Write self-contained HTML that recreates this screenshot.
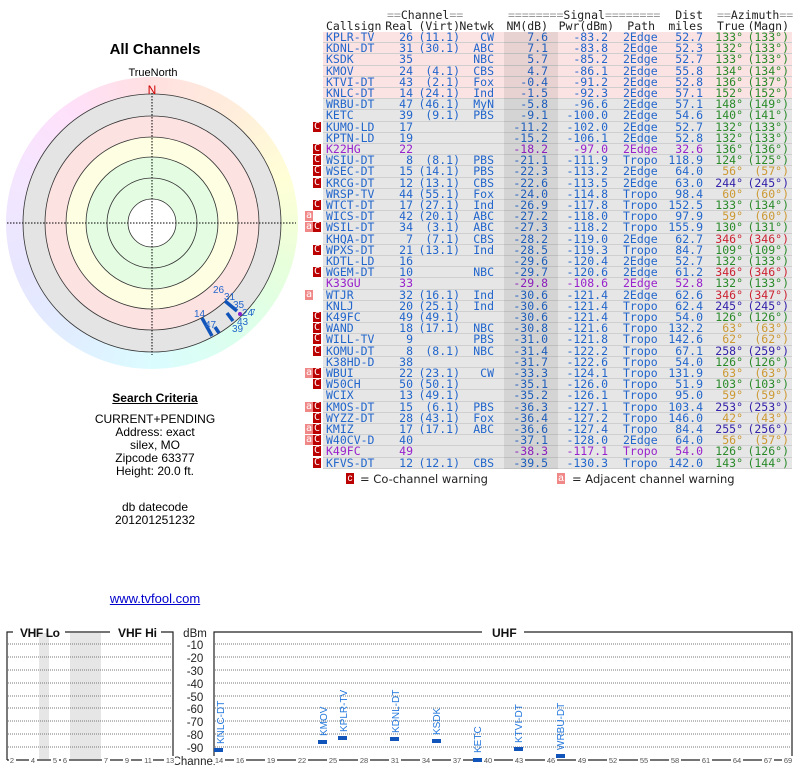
<!DOCTYPE html>
<html><head><meta charset="utf-8"><style>
body{margin:0;width:800px;height:768px;background:#fff;position:relative;overflow:hidden;font-family:"Liberation Sans",sans-serif}
.m{font-family:"DejaVu Sans Mono","Liberation Mono",monospace;font-size:11.5px}
.r{position:absolute;left:0;width:800px;height:11.2px;line-height:11.6px;color:#2266cc}
.r:before{content:"";position:absolute;left:323px;width:469px;top:0;height:10.2px;background:#e6e6e6;border-bottom:1px solid #cfcfcf}
.r.p:before{background:#fbe3e3}
.r.v{color:#9922cc}
.r span{position:absolute;top:0;white-space:pre}
.cs{left:326px}.re{right:387px}.vi{right:340px}.nw{right:306px}.nm{right:252px}.pw{right:192px}.pa{left:623px}.di{right:97px}.tr{right:57px}.mg{right:11px}
.g{color:#2a8a2a}.o{color:#cc9933}.b{color:#3322aa}.d{color:#cc2233}
.C,.A{position:absolute;width:8px;height:10px;color:#fff;font-size:10px;line-height:10px;text-align:center;top:0.5px}
.C{left:313px;background:#bb0000}.A{left:305px;background:#f08888}
.h{position:absolute;white-space:pre;color:#222;line-height:11px}
.q{color:#999}
.t{position:absolute;left:0;width:310px;text-align:center;font-size:12px;color:#000}
</style></head><body>
<div style="position:absolute;left:504px;top:32px;width:54px;height:437px;background:rgba(0,0,0,0.08);z-index:2"></div>
<div class="m">
<div class="h" style="left:387px;top:10px"><span class="q">==</span>Channel<span class="q">==</span></div>
<div class="h" style="left:508px;top:10px"><span class="q">========</span>Signal<span class="q">========</span></div>
<div class="h" style="right:97px;top:10px">Dist</div>
<div class="h" style="left:717px;top:10px"><span class="q">==</span>Azimuth<span class="q">==</span></div>
<div class="h" style="left:326px;top:21px">Callsign</div>
<div class="h" style="right:387px;top:21px">Real</div>
<div class="h" style="right:340px;top:21px">(Virt)</div>
<div class="h" style="right:306px;top:21px">Netwk</div>
<div class="h" style="right:252px;top:21px">NM(dB)</div>
<div class="h" style="right:186px;top:21px">Pwr(dBm)</div>
<div class="h" style="right:145px;top:21px">Path</div>
<div class="h" style="right:97px;top:21px">miles</div>
<div class="h" style="left:717px;top:21px">True</div>
<div class="h" style="right:11px;top:21px">(Magn)</div>

<div class="r p" style="top:32px"><span class="cs">KPLR-TV</span><span class="re">26</span><span class="vi">(11.1)</span><span class="nw">CW</span><span class="nm">7.6</span><span class="pw">-83.2</span><span class="pa">2Edge</span><span class="di">52.7</span><span class="tr g">133°</span><span class="mg g">(133°)</span></div>
<div class="r p" style="top:43.2px"><span class="cs">KDNL-DT</span><span class="re">31</span><span class="vi">(30.1)</span><span class="nw">ABC</span><span class="nm">7.1</span><span class="pw">-83.8</span><span class="pa">2Edge</span><span class="di">52.3</span><span class="tr g">132°</span><span class="mg g">(133°)</span></div>
<div class="r p" style="top:54.4px"><span class="cs">KSDK</span><span class="re">35</span><span class="nw">NBC</span><span class="nm">5.7</span><span class="pw">-85.2</span><span class="pa">2Edge</span><span class="di">52.7</span><span class="tr g">133°</span><span class="mg g">(133°)</span></div>
<div class="r p" style="top:65.6px"><span class="cs">KMOV</span><span class="re">24</span><span class="vi">(4.1)</span><span class="nw">CBS</span><span class="nm">4.7</span><span class="pw">-86.1</span><span class="pa">2Edge</span><span class="di">55.8</span><span class="tr g">134°</span><span class="mg g">(134°)</span></div>
<div class="r p" style="top:76.8px"><span class="cs">KTVI-DT</span><span class="re">43</span><span class="vi">(2.1)</span><span class="nw">Fox</span><span class="nm">-0.4</span><span class="pw">-91.2</span><span class="pa">2Edge</span><span class="di">52.8</span><span class="tr g">136°</span><span class="mg g">(137°)</span></div>
<div class="r p" style="top:88px"><span class="cs">KNLC-DT</span><span class="re">14</span><span class="vi">(24.1)</span><span class="nw">Ind</span><span class="nm">-1.5</span><span class="pw">-92.3</span><span class="pa">2Edge</span><span class="di">57.1</span><span class="tr g">152°</span><span class="mg g">(152°)</span></div>
<div class="r" style="top:99.2px"><span class="cs">WRBU-DT</span><span class="re">47</span><span class="vi">(46.1)</span><span class="nw">MyN</span><span class="nm">-5.8</span><span class="pw">-96.6</span><span class="pa">2Edge</span><span class="di">57.1</span><span class="tr g">148°</span><span class="mg g">(149°)</span></div>
<div class="r" style="top:110.4px"><span class="cs">KETC</span><span class="re">39</span><span class="vi">(9.1)</span><span class="nw">PBS</span><span class="nm">-9.1</span><span class="pw">-100.0</span><span class="pa">2Edge</span><span class="di">54.6</span><span class="tr g">140°</span><span class="mg g">(141°)</span></div>
<div class="r" style="top:121.6px"><span class="C">C</span><span class="cs">KUMO-LD</span><span class="re">17</span><span class="nm">-11.2</span><span class="pw">-102.0</span><span class="pa">2Edge</span><span class="di">52.7</span><span class="tr g">132°</span><span class="mg g">(133°)</span></div>
<div class="r" style="top:132.8px"><span class="cs">KPTN-LD</span><span class="re">19</span><span class="nm">-15.2</span><span class="pw">-106.1</span><span class="pa">2Edge</span><span class="di">52.8</span><span class="tr g">132°</span><span class="mg g">(133°)</span></div>
<div class="r v" style="top:144px"><span class="C">C</span><span class="cs">K22HG</span><span class="re">22</span><span class="nm">-18.2</span><span class="pw">-97.0</span><span class="pa">2Edge</span><span class="di">32.6</span><span class="tr g">136°</span><span class="mg g">(136°)</span></div>
<div class="r" style="top:155.2px"><span class="C">C</span><span class="cs">WSIU-DT</span><span class="re">8</span><span class="vi">(8.1)</span><span class="nw">PBS</span><span class="nm">-21.1</span><span class="pw">-111.9</span><span class="pa">Tropo</span><span class="di">118.9</span><span class="tr g">124°</span><span class="mg g">(125°)</span></div>
<div class="r" style="top:166.4px"><span class="C">C</span><span class="cs">WSEC-DT</span><span class="re">15</span><span class="vi">(14.1)</span><span class="nw">PBS</span><span class="nm">-22.3</span><span class="pw">-113.2</span><span class="pa">2Edge</span><span class="di">64.0</span><span class="tr o">56°</span><span class="mg o">(57°)</span></div>
<div class="r" style="top:177.6px"><span class="C">C</span><span class="cs">KRCG-DT</span><span class="re">12</span><span class="vi">(13.1)</span><span class="nw">CBS</span><span class="nm">-22.6</span><span class="pw">-113.5</span><span class="pa">2Edge</span><span class="di">63.0</span><span class="tr b">244°</span><span class="mg b">(245°)</span></div>
<div class="r" style="top:188.8px"><span class="cs">WRSP-TV</span><span class="re">44</span><span class="vi">(55.1)</span><span class="nw">Fox</span><span class="nm">-24.0</span><span class="pw">-114.8</span><span class="pa">Tropo</span><span class="di">98.4</span><span class="tr o">60°</span><span class="mg o">(60°)</span></div>
<div class="r" style="top:200px"><span class="C">C</span><span class="cs">WTCT-DT</span><span class="re">17</span><span class="vi">(27.1)</span><span class="nw">Ind</span><span class="nm">-26.9</span><span class="pw">-117.8</span><span class="pa">Tropo</span><span class="di">152.5</span><span class="tr g">133°</span><span class="mg g">(134°)</span></div>
<div class="r" style="top:211.2px"><span class="A">a</span><span class="cs">WICS-DT</span><span class="re">42</span><span class="vi">(20.1)</span><span class="nw">ABC</span><span class="nm">-27.2</span><span class="pw">-118.0</span><span class="pa">Tropo</span><span class="di">97.9</span><span class="tr o">59°</span><span class="mg o">(60°)</span></div>
<div class="r" style="top:222.4px"><span class="A">a</span><span class="C">C</span><span class="cs">WSIL-DT</span><span class="re">34</span><span class="vi">(3.1)</span><span class="nw">ABC</span><span class="nm">-27.3</span><span class="pw">-118.2</span><span class="pa">Tropo</span><span class="di">155.9</span><span class="tr g">130°</span><span class="mg g">(131°)</span></div>
<div class="r" style="top:233.6px"><span class="cs">KHQA-DT</span><span class="re">7</span><span class="vi">(7.1)</span><span class="nw">CBS</span><span class="nm">-28.2</span><span class="pw">-119.0</span><span class="pa">2Edge</span><span class="di">62.7</span><span class="tr d">346°</span><span class="mg d">(346°)</span></div>
<div class="r" style="top:244.8px"><span class="C">C</span><span class="cs">WPXS-DT</span><span class="re">21</span><span class="vi">(13.1)</span><span class="nw">Ind</span><span class="nm">-28.5</span><span class="pw">-119.3</span><span class="pa">Tropo</span><span class="di">84.7</span><span class="tr g">109°</span><span class="mg g">(109°)</span></div>
<div class="r" style="top:256px"><span class="cs">KDTL-LD</span><span class="re">16</span><span class="nm">-29.6</span><span class="pw">-120.4</span><span class="pa">2Edge</span><span class="di">52.7</span><span class="tr g">132°</span><span class="mg g">(133°)</span></div>
<div class="r" style="top:267.2px"><span class="C">C</span><span class="cs">WGEM-DT</span><span class="re">10</span><span class="nw">NBC</span><span class="nm">-29.7</span><span class="pw">-120.6</span><span class="pa">2Edge</span><span class="di">61.2</span><span class="tr d">346°</span><span class="mg d">(346°)</span></div>
<div class="r v" style="top:278.4px"><span class="cs">K33GU</span><span class="re">33</span><span class="nm">-29.8</span><span class="pw">-108.6</span><span class="pa">2Edge</span><span class="di">52.8</span><span class="tr g">132°</span><span class="mg g">(133°)</span></div>
<div class="r" style="top:289.6px"><span class="A">a</span><span class="cs">WTJR</span><span class="re">32</span><span class="vi">(16.1)</span><span class="nw">Ind</span><span class="nm">-30.6</span><span class="pw">-121.4</span><span class="pa">2Edge</span><span class="di">62.6</span><span class="tr d">346°</span><span class="mg d">(347°)</span></div>
<div class="r" style="top:300.8px"><span class="cs">KNLJ</span><span class="re">20</span><span class="vi">(25.1)</span><span class="nw">Ind</span><span class="nm">-30.6</span><span class="pw">-121.4</span><span class="pa">Tropo</span><span class="di">62.4</span><span class="tr b">245°</span><span class="mg b">(245°)</span></div>
<div class="r" style="top:312px"><span class="C">C</span><span class="cs">K49FC</span><span class="re">49</span><span class="vi">(49.1)</span><span class="nm">-30.6</span><span class="pw">-121.4</span><span class="pa">Tropo</span><span class="di">54.0</span><span class="tr g">126°</span><span class="mg g">(126°)</span></div>
<div class="r" style="top:323.2px"><span class="C">C</span><span class="cs">WAND</span><span class="re">18</span><span class="vi">(17.1)</span><span class="nw">NBC</span><span class="nm">-30.8</span><span class="pw">-121.6</span><span class="pa">Tropo</span><span class="di">132.2</span><span class="tr o">63°</span><span class="mg o">(63°)</span></div>
<div class="r" style="top:334.4px"><span class="C">C</span><span class="cs">WILL-TV</span><span class="re">9</span><span class="nw">PBS</span><span class="nm">-31.0</span><span class="pw">-121.8</span><span class="pa">Tropo</span><span class="di">142.6</span><span class="tr o">62°</span><span class="mg o">(62°)</span></div>
<div class="r" style="top:345.6px"><span class="C">C</span><span class="cs">KOMU-DT</span><span class="re">8</span><span class="vi">(8.1)</span><span class="nw">NBC</span><span class="nm">-31.4</span><span class="pw">-122.2</span><span class="pa">Tropo</span><span class="di">67.1</span><span class="tr b">258°</span><span class="mg b">(259°)</span></div>
<div class="r" style="top:356.8px"><span class="cs">K38HD-D</span><span class="re">38</span><span class="nm">-31.7</span><span class="pw">-122.6</span><span class="pa">Tropo</span><span class="di">54.0</span><span class="tr g">126°</span><span class="mg g">(126°)</span></div>
<div class="r" style="top:368px"><span class="A">a</span><span class="C">C</span><span class="cs">WBUI</span><span class="re">22</span><span class="vi">(23.1)</span><span class="nw">CW</span><span class="nm">-33.3</span><span class="pw">-124.1</span><span class="pa">Tropo</span><span class="di">131.9</span><span class="tr o">63°</span><span class="mg o">(63°)</span></div>
<div class="r" style="top:379.2px"><span class="C">C</span><span class="cs">W50CH</span><span class="re">50</span><span class="vi">(50.1)</span><span class="nm">-35.1</span><span class="pw">-126.0</span><span class="pa">Tropo</span><span class="di">51.9</span><span class="tr g">103°</span><span class="mg g">(103°)</span></div>
<div class="r" style="top:390.4px"><span class="cs">WCIX</span><span class="re">13</span><span class="vi">(49.1)</span><span class="nm">-35.2</span><span class="pw">-126.1</span><span class="pa">Tropo</span><span class="di">95.0</span><span class="tr o">59°</span><span class="mg o">(59°)</span></div>
<div class="r" style="top:401.6px"><span class="A">a</span><span class="C">C</span><span class="cs">KMOS-DT</span><span class="re">15</span><span class="vi">(6.1)</span><span class="nw">PBS</span><span class="nm">-36.3</span><span class="pw">-127.1</span><span class="pa">Tropo</span><span class="di">103.4</span><span class="tr b">253°</span><span class="mg b">(253°)</span></div>
<div class="r" style="top:412.8px"><span class="C">C</span><span class="cs">WYZZ-DT</span><span class="re">28</span><span class="vi">(43.1)</span><span class="nw">Fox</span><span class="nm">-36.4</span><span class="pw">-127.2</span><span class="pa">Tropo</span><span class="di">146.0</span><span class="tr o">42°</span><span class="mg o">(43°)</span></div>
<div class="r" style="top:424px"><span class="A">a</span><span class="C">C</span><span class="cs">KMIZ</span><span class="re">17</span><span class="vi">(17.1)</span><span class="nw">ABC</span><span class="nm">-36.6</span><span class="pw">-127.4</span><span class="pa">Tropo</span><span class="di">84.4</span><span class="tr b">255°</span><span class="mg b">(256°)</span></div>
<div class="r" style="top:435.2px"><span class="A">a</span><span class="C">C</span><span class="cs">W40CV-D</span><span class="re">40</span><span class="nm">-37.1</span><span class="pw">-128.0</span><span class="pa">2Edge</span><span class="di">64.0</span><span class="tr o">56°</span><span class="mg o">(57°)</span></div>
<div class="r v" style="top:446.4px"><span class="C">C</span><span class="cs">K49FC</span><span class="re">49</span><span class="nm">-38.3</span><span class="pw">-117.1</span><span class="pa">Tropo</span><span class="di">54.0</span><span class="tr g">126°</span><span class="mg g">(126°)</span></div>
<div class="r" style="top:457.6px"><span class="C">C</span><span class="cs">KFVS-DT</span><span class="re">12</span><span class="vi">(12.1)</span><span class="nw">CBS</span><span class="nm">-39.5</span><span class="pw">-130.3</span><span class="pa">Tropo</span><span class="di">142.0</span><span class="tr g">143°</span><span class="mg g">(144°)</span></div>
</div>
<div style="position:absolute;left:346px;top:473px;width:8px;height:11px;background:#bb0000;color:#fff;font-size:10px;line-height:11px;text-align:center">c</div>
<div style="position:absolute;left:360px;top:472px;font-family:'DejaVu Sans',sans-serif;font-size:11.5px;color:#222">= Co-channel warning</div>
<div style="position:absolute;left:557px;top:473px;width:8px;height:11px;background:#f08888;color:#fff;font-size:10px;line-height:11px;text-align:center">a</div>
<div style="position:absolute;left:572px;top:472px;font-family:'DejaVu Sans',sans-serif;font-size:11.5px;color:#222">= Adjacent channel warning</div>

<div class="t" style="top:41px;font-size:15px;font-weight:bold">All Channels</div>
<div class="t" style="top:67px;font-size:11px;left:-2px">TrueNorth</div>
<div style="position:absolute;left:0;top:0;width:310px;height:380px">
<svg width="310" height="380" style="position:absolute;left:0;top:0">
<foreignObject x="6" y="77" width="292" height="292"><div xmlns="http://www.w3.org/1999/xhtml" style="width:292px;height:292px;border-radius:50%;background:conic-gradient(hsl(0,100%,94%),hsl(30,100%,93%),hsl(60,100%,92%),hsl(100,100%,93%),hsl(150,100%,93%),hsl(185,100%,93%),hsl(215,100%,94%),hsl(245,100%,95%),hsl(275,100%,95%),hsl(310,100%,94%),hsl(0,100%,94%))"></div></foreignObject>
<circle cx="152" cy="223" r="129" fill="#e4e4e4" stroke="#333" stroke-width="0.8"/>
<circle cx="152" cy="223" r="107" fill="#fde2e2" stroke="#333" stroke-width="0.8"/>
<circle cx="152" cy="223" r="86" fill="#fefee2" stroke="#333" stroke-width="0.8"/>
<circle cx="152" cy="223" r="66" fill="#e4fce2" stroke="#333" stroke-width="0.8"/>
<circle cx="152" cy="223" r="45" fill="#e4fce2" stroke="#333" stroke-width="0.8"/>
<circle cx="152" cy="223" r="24" fill="#fff" stroke="#333" stroke-width="0.8"/>
<line x1="7" y1="223" x2="296" y2="223" stroke="#000" stroke-width="1" stroke-dasharray="1.5,1.5"/>
<line x1="152" y1="93" x2="152" y2="355" stroke="#000" stroke-width="1" stroke-dasharray="1.5,1.5"/>
<text x="152" y="94" text-anchor="middle" font-size="12" fill="#cc0000" font-family="Liberation Sans">N</text>
<g stroke="#1155bb" stroke-width="3.5" stroke-linecap="butt">
<line x1="202" y1="318" x2="212" y2="336"/><line x1="215" y1="327" x2="219" y2="333"/>
<line x1="225" y1="301" x2="237" y2="311"/><line x1="227" y1="313" x2="233" y2="321"/>
</g>
<circle cx="240" cy="314" r="2" fill="#8822cc"/>
<g font-size="10" fill="#2266cc" font-family="Liberation Sans">
<text x="213" y="293">26</text><text x="224" y="300">31</text><text x="233" y="308">35</text>
<text x="242" y="316">24</text><text x="251" y="315" font-size="8">7</text><text x="237" y="325">43</text><text x="232" y="332">39</text>
<text x="194" y="317">14</text><text x="205" y="328">47</text>
</g>
</svg></div>

<div class="t" style="top:391px;font-weight:bold;text-decoration:underline">Search Criteria</div>
<div class="t" style="top:412px">CURRENT+PENDING</div>
<div class="t" style="top:425px">Address: exact</div>
<div class="t" style="top:438px">silex, MO</div>
<div class="t" style="top:451px">Zipcode 63377</div>
<div class="t" style="top:464px">Height: 20.0 ft.</div>
<div class="t" style="top:500px">db datecode</div>
<div class="t" style="top:513px">201201251232</div>
<div class="t" style="top:591px;font-size:13px;color:#0000cc;text-decoration:underline">www.tvfool.com</div>

<svg width="800" height="768" style="position:absolute;left:0;top:0" font-family="Liberation Sans">
<rect x="39" y="633" width="10" height="126" fill="#e6e6e6"/>
<rect x="70" y="633" width="31" height="126" fill="#e6e6e6"/>
<g stroke="#777" stroke-width="1" stroke-dasharray="1,1">
<path d="M8 644H172M8 657H172M8 670H172M8 683H172M8 696H172M8 708H172M8 721H172M8 734H172M8 747H172"/>
<path d="M215 644H791M215 657H791M215 670H791M215 683H791M215 696H791M215 708H791M215 721H791M215 734H791M215 747H791"/>
</g>
<g stroke="#222" stroke-width="1.2" fill="none">
<path d="M7 760V632H13M65 632H110M161 632H173V760"/>
<path d="M214 760V632H482M524 632H792V760"/>
<path d="M7 760H173M214 760H792"/>
</g>
<g font-size="12" font-weight="bold" fill="#111">
<text x="20" y="637" textLength="40">VHF Lo</text><text x="118" y="637" textLength="39">VHF Hi</text><text x="492" y="637">UHF</text>
</g>
<g font-size="11.5" fill="#222" text-anchor="middle">
<text x="195" y="637">dBm</text><text x="195" y="649">-10</text><text x="195" y="662">-20</text><text x="195" y="675">-30</text><text x="195" y="688">-40</text><text x="195" y="701">-50</text><text x="195" y="713">-60</text><text x="195" y="726">-70</text><text x="195" y="739">-80</text><text x="195" y="752">-90</text>
<text x="194" y="765">Channel</text>
</g>
<g font-size="7.5" fill="#555" text-anchor="middle">
<g fill="#fff"><rect x="9" y="756" width="7" height="8"/><rect x="29" y="756" width="8" height="8"/><rect x="51" y="756" width="8" height="8"/><rect x="61" y="756" width="8" height="8"/><rect x="102" y="756" width="8" height="8"/><rect x="123" y="756" width="8" height="8"/><rect x="142" y="756" width="11" height="8"/><rect x="164" y="756" width="11" height="8"/></g>
<text x="12" y="763">2</text><text x="33" y="763">4</text><text x="55" y="763">5</text><text x="65" y="763">6</text><text x="106" y="763">7</text><text x="127" y="763">9</text><text x="148" y="763">11</text><text x="170" y="763">13</text>
<g fill="#fff"><rect x="213" y="756" width="12" height="8"/><rect x="234" y="756" width="12" height="8"/><rect x="265" y="756" width="12" height="8"/><rect x="296" y="756" width="12" height="8"/><rect x="327" y="756" width="12" height="8"/><rect x="358" y="756" width="12" height="8"/><rect x="389" y="756" width="12" height="8"/><rect x="420" y="756" width="12" height="8"/><rect x="451" y="756" width="12" height="8"/><rect x="482" y="756" width="12" height="8"/><rect x="513" y="756" width="12" height="8"/><rect x="545" y="756" width="12" height="8"/><rect x="576" y="756" width="12" height="8"/><rect x="607" y="756" width="12" height="8"/><rect x="638" y="756" width="12" height="8"/><rect x="669" y="756" width="12" height="8"/><rect x="700" y="756" width="12" height="8"/><rect x="731" y="756" width="12" height="8"/><rect x="762" y="756" width="12" height="8"/><rect x="782" y="756" width="12" height="8"/></g>
<text x="219" y="763">14</text><text x="240" y="763">16</text><text x="271" y="763">19</text><text x="302" y="763">22</text><text x="333" y="763">25</text><text x="364" y="763">28</text><text x="395" y="763">31</text><text x="426" y="763">34</text><text x="457" y="763">37</text><text x="488" y="763">40</text><text x="519" y="763">43</text><text x="551" y="763">46</text><text x="582" y="763">49</text><text x="613" y="763">52</text><text x="644" y="763">55</text><text x="675" y="763">58</text><text x="706" y="763">61</text><text x="737" y="763">64</text><text x="768" y="763">67</text><text x="788" y="763">69</text>
</g>
<g fill="#1155bb">
<rect x="214" y="748" width="9" height="4"/><rect x="318" y="740" width="9" height="4"/><rect x="338" y="736" width="9" height="4"/><rect x="390" y="737" width="9" height="4"/><rect x="432" y="739" width="9" height="4"/><rect x="473" y="758" width="9" height="4"/><rect x="514" y="747" width="9" height="4"/><rect x="556" y="754" width="9" height="4"/>
</g>
<g font-size="10" fill="#2277dd">
<text transform="translate(224,744) rotate(-90)">KNLC-DT</text>
<text transform="translate(327,736) rotate(-90)">KMOV</text>
<text transform="translate(347,732) rotate(-90)">KPLR-TV</text>
<text transform="translate(399,733) rotate(-90)">KDNL-DT</text>
<text transform="translate(440,735) rotate(-90)">KSDK</text>
<text transform="translate(481,753) rotate(-90)">KETC</text>
<text transform="translate(522,743) rotate(-90)">KTVI-DT</text>
<text transform="translate(564,750) rotate(-90)">WRBU-DT</text>
</g>
</svg>
</body></html>
